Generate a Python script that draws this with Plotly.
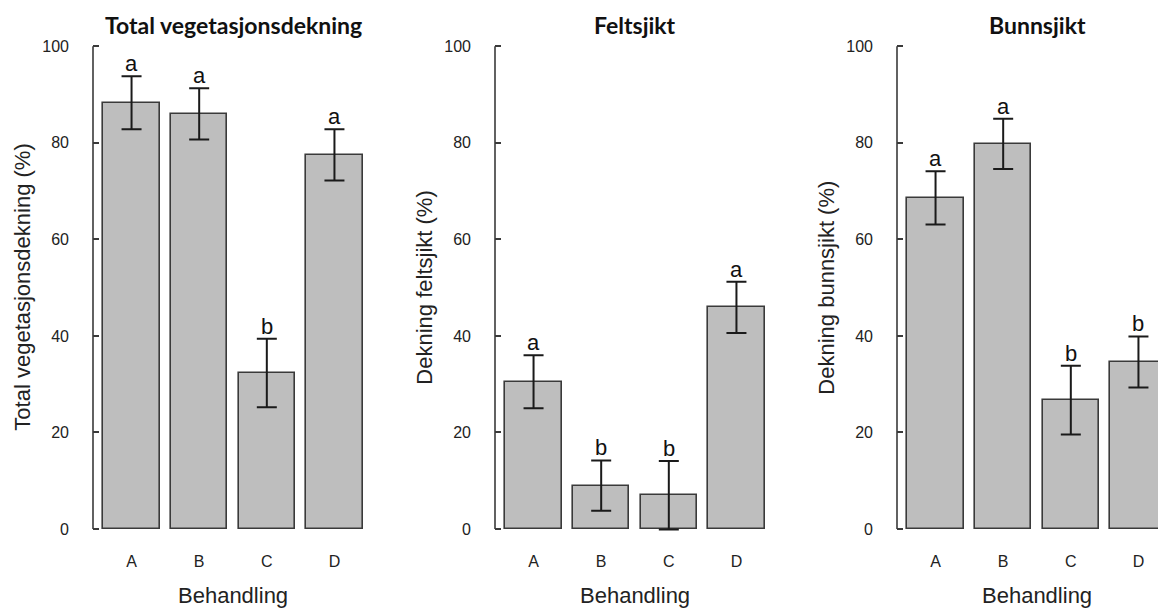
import plotly.graph_objects as go

# ---- data ----
categories = ["A", "B", "C", "D"]
total_mean = [88.3, 86.0, 32.3, 77.5]
total_err = [5.5, 5.3, 7.1, 5.3]
total_letters = ["a", "a", "b", "a"]

felt_mean = [30.5, 9.0, 7.0, 45.9]
felt_err = [5.5, 5.2, 7.1, 5.3]
felt_letters = ["a", "b", "b", "a"]

bunn_mean = [68.6, 79.8, 26.7, 34.6]
bunn_err = [5.5, 5.2, 7.1, 5.3]
bunn_letters = ["a", "a", "b", "b"]

panel_titles = ["Total vegetasjonsdekning", "Feltsjikt", "Bunnsjikt"]
y_titles = ["Total vegetasjonsdekning (%)", "Dekning feltsjikt (%)", "Dekning bunnsjikt (%)"]
x_title = "Behandling"
y_tickvals = [0, 20, 40, 60, 80, 100]

# ---- layout constants ----
W, H = 1158, 609
bar_pos = [0.7, 1.9, 3.1, 4.3]   # barplot positions (width 1, space 0.2)
xr_full = [0.016, 4.984]
px_per_unit = 280 / (xr_full[1] - xr_full[0])
axis_px = [93, 495, 897]
ydom = [60.7 / H, 582 / H]
yrange = [-4, 104]

LINE = "#3a3a3a"
FILL = "#BEBEBE"
SANS = "Liberation Sans, Arial, sans-serif"

panels = [
    (total_mean, total_err, total_letters),
    (felt_mean, felt_err, felt_letters),
    (bunn_mean, bunn_err, bunn_letters),
]

fig = go.Figure()
annotations = []
shapes = []
layout = {}

for i, (mean, err, letters) in enumerate(panels):
    n = i + 1
    xa = "x" if n == 1 else f"x{n}"
    ya = "y" if n == 1 else f"y{n}"
    left = axis_px[i] / W
    right_px = axis_px[i] + 280
    if right_px > W:
        right = 1.0
        xr = [xr_full[0], xr_full[0] + (W - axis_px[i]) / px_per_unit]
    else:
        right = right_px / W
        xr = xr_full
    fig.add_trace(go.Bar(
        x=bar_pos, y=mean, width=1.0,
        marker=dict(color=FILL, line=dict(color=LINE, width=1.6)),
        error_y=dict(type="data", array=err, visible=True,
                     color="#1a1a1a", thickness=2, width=10),
        xaxis=xa, yaxis=ya, showlegend=False, hoverinfo="skip",
    ))
    layout[f"xaxis{'' if n == 1 else n}"] = dict(
        domain=[left, right], range=xr, showline=False, showgrid=False,
        zeroline=False, tickmode="array", tickvals=bar_pos, ticktext=categories,
        ticks="", tickfont=dict(family=SANS, size=16, color="#222"),
        ticklabelstandoff=2, anchor=ya, fixedrange=True,
    )
    layout[f"yaxis{'' if n == 1 else n}"] = dict(
        domain=ydom, range=yrange, showline=False, showgrid=False,
        zeroline=False, tickmode="array", tickvals=y_tickvals,
        ticks="inside", ticklen=6, tickwidth=1.5, tickcolor=LINE,
        tickfont=dict(family=SANS, size=16, color="#222"),
        ticklabelstandoff=23, anchor=xa, fixedrange=True,
    )
    # y axis line from 0 to 100 (base-R style)
    shapes.append(dict(type="line", xref=f"{xa} domain", yref=ya,
                       x0=0, x1=0, y0=0, y1=100,
                       line=dict(color=LINE, width=1.6)))
    # significance letters
    for xp, m, e, lt in zip(bar_pos, mean, err, letters):
        annotations.append(dict(x=xp, y=m + e, xref=xa, yref=ya, text=lt,
                                showarrow=False, yanchor="bottom", yshift=-2,
                                font=dict(family=SANS, size=22, color="#111")))
    center_px = axis_px[i] + 140
    annotations.append(dict(x=center_px / W, y=(H - 25) / H, xref="paper", yref="paper",
                            text=f"<b>{panel_titles[i]}</b>", showarrow=False,
                            xanchor="center", yanchor="middle",
                            font=dict(family="Lato, sans-serif", size=23, color="#111")))
    annotations.append(dict(x=(axis_px[i] - 70) / W, y=(ydom[0] + ydom[1]) / 2,
                            xref="paper", yref="paper", text=y_titles[i],
                            showarrow=False, textangle=-90,
                            xanchor="center", yanchor="middle",
                            font=dict(family=SANS, size=22, color="#222")))
    annotations.append(dict(x=center_px / W, y=(H - 595) / H, xref="paper", yref="paper",
                            text=x_title, showarrow=False,
                            xanchor="center", yanchor="middle",
                            font=dict(family=SANS, size=22, color="#222")))

fig.update_layout(
    width=W, height=H, margin=dict(l=0, r=0, t=0, b=0),
    paper_bgcolor="white", plot_bgcolor="white",
    annotations=annotations, shapes=shapes, bargap=0,
    **layout,
)

fig.write_html("out.html")
